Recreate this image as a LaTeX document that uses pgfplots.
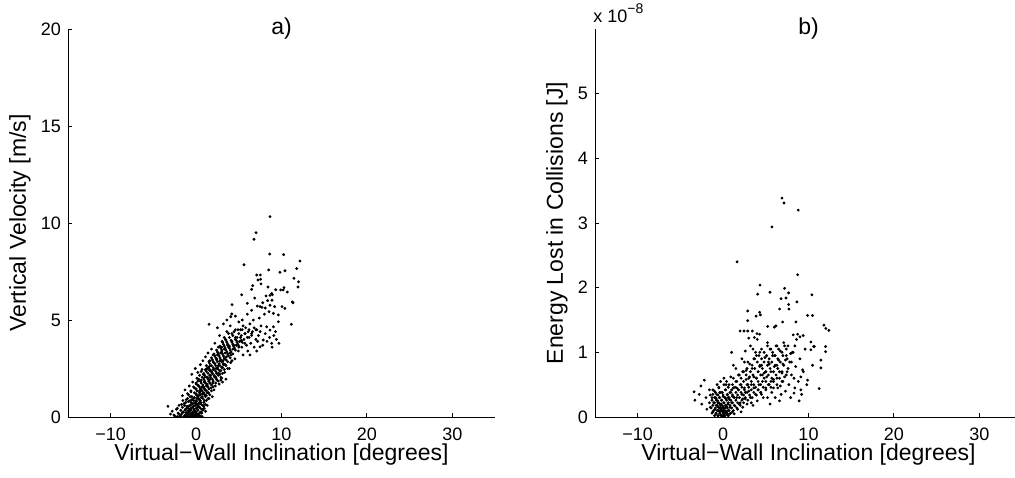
\documentclass[border=0pt]{standalone}
\usepackage{fontspec}
\setmainfont{Liberation Sans}
\usepackage{pgfplots}
\pgfplotsset{compat=1.18}

\pgfplotsset{mystyle/.style={
  scale only axis, width=213.5pt, height=194pt,
  axis x line*=bottom, axis y line*=left,
  axis line style={-, line width=0.5pt},
  tick align=inside, major tick length=2pt,
  tick style={black, line width=0.5pt},
  xmin=-15, xmax=35, xtick={-10,0,10,20,30},
  xticklabels={−10,0,10,20,30},
  ymin=0,
  ticklabel style={font=\fontsize{9}{11}\selectfont},
  xticklabel style={yshift=-2pt},
  every axis x label/.style={at={(axis description cs:0.5,-0.098)},anchor=center,font=\fontsize{11.5}{14}\selectfont},
  /pgf/number format/assume math mode=true,
  clip=false,
}}
\pgfplotsset{dots/.style={only marks, mark=*, mark size=0.5pt, mark options={draw=none, fill=black}}}

\begin{document}
\begin{tikzpicture}
\path[use as bounding box] (0,0) rectangle (507.5pt,-238.5pt);

\begin{axis}[mystyle, at={(34pt,-208.5pt)}, anchor=south west,
  ymax=20, ytick={0,5,10,15,20},
  xlabel={Virtual−Wall Inclination [degrees]},
  ylabel={Vertical Velocity [m/s]},
  every axis y label/.style={at={(axis description cs:-0.1124,0.5)},rotate=90,anchor=center,font=\fontsize{11.5}{14}\selectfont},
]
\addplot[dots] coordinates {
(8.65,10.33)(7.02,9.50)(6.78,9.16)(8.62,8.40)(10.25,8.37)(12.16,8.04)(5.61,7.85)(11.78,7.65)(8.5,7.58)(10.41,7.54)
(9.82,7.46)(7.1,7.32)(7.52,7.32)(7.25,7.06)(7.56,7.1)(11.46,7.15)(12.0,6.97)(7.6,6.86)(6.63,6.77)(11.93,6.7)
(8.42,6.7)(6.5,6.58)(10.29,6.67)(10.2,6.55)(9.9,6.55)(9.32,6.56)(10.68,6.44)(8.85,6.37)(8.93,6.3)(8.65,6.27)
(8.19,6.24)(5.34,6.3)(6.86,6.13)(8.38,6.0)(8.89,6.02)(11.27,5.93)(11.35,5.89)(7.8,5.89)(6.0,5.86)(4.21,5.79)
(7.17,5.72)(7.49,5.69)(7.72,5.65)(8.1,5.62)(8.65,5.76)(9.2,5.69)(10.06,5.69)(10.4,5.6)(11.15,4.78)(1.52,4.78)
(4.17,5.31)(4.06,5.17)(8.54,5.43)(9.05,5.34)(9.63,5.26)(9.63,4.91)(9.05,4.65)(8.27,4.65)(8.65,4.48)(8.85,3.8)
(7.49,3.62)(7.87,3.97)
(-3.3,0.55)(-3.0,0.15)(-2.8,0.3)(-2.5,0.05)(-2.3,0.4)(-2.1,0.2)(-2.0,0.6)(-1.9,0.05)(-1.8,0.35)(-1.7,0.15)
(-1.6,0.5)(-1.5,0.25)(-1.45,0.02)(-1.4,0.7)(-1.3,0.1)(-1.25,0.4)(-1.2,0.22)(-1.1,0.05)(-1.05,0.55)(-1.0,0.3)
(-0.95,0.12)(-0.9,0.8)(-0.85,0.42)(-0.8,0.02)(-0.75,0.25)(-0.7,0.6)(-0.65,0.15)(-0.6,0.35)(-0.55,0.05)(-0.5,0.9)
(-0.45,0.5)(-0.4,0.2)(-0.35,0.7)(-0.3,0.1)(-0.25,0.4)(-0.2,1.0)(-0.15,0.28)(-0.1,0.6)(-0.05,0.02)(0.0,0.45)
(0.05,0.8)(0.1,0.15)(0.15,1.1)(0.2,0.35)(0.25,0.65)(0.3,0.05)(0.35,0.9)(0.4,0.5)(0.45,1.3)(0.5,0.25)
(0.55,0.75)(0.6,1.0)(0.7,0.4)(0.75,1.2)(0.8,0.6)(0.9,1.5)(1.0,0.85)(1.1,0.3)(1.2,1.1)
(-1.6,1.1)(-1.3,1.4)(-1.0,1.2)(-0.8,1.6)(-0.6,1.3)(-0.4,1.8)(-0.2,1.5)(0.0,1.2)(0.1,2.0)(0.3,1.6)
(0.4,1.35)(0.6,1.9)(0.7,1.55)(0.85,2.2)(0.95,1.8)(1.05,1.4)(1.15,2.4)(1.25,1.7)(1.35,2.05)(1.45,1.25)
(1.55,2.6)(1.65,1.95)(1.75,1.5)(1.85,2.3)(1.95,1.75)(2.05,2.8)(2.15,2.1)(2.25,1.6)(2.35,2.5)(2.45,1.9)
(2.6,2.25)(2.7,1.7)(2.8,2.9)(2.9,2.4)(3.0,2.0)(3.1,1.8)(3.2,2.7)(3.35,2.3)(3.5,1.95)(3.7,2.5)
(-0.5,2.2)(-0.1,2.5)(0.2,2.3)(0.5,2.7)(0.8,2.9)(1.1,3.1)(1.4,3.3)
(1.6,2.9)(1.8,3.5)(2.0,3.2)(2.2,3.8)(2.4,3.0)(2.6,3.6)(2.75,4.2)(2.9,3.3)(3.05,3.9)(3.15,2.9)
(3.3,3.5)(3.45,4.0)(3.55,3.1)(3.7,3.7)(3.8,4.3)(3.95,3.3)(4.05,2.8)(4.2,3.9)(4.3,3.5)(4.45,4.4)
(4.55,3.0)(4.7,3.7)(4.8,4.1)(4.95,3.4)(5.1,3.9)(5.2,4.5)(5.35,3.6)(5.5,3.2)(5.6,4.0)(5.75,4.3)
(5.9,3.7)(6.05,3.4)(6.2,4.1)(6.4,3.8)(6.6,4.4)(6.8,3.6)(7.0,4.0)(7.2,3.9)(2.5,4.6)(3.2,4.8)
(3.6,5.0)(4.0,4.7)(4.6,5.2)(5.0,4.9)(5.4,5.0)(5.8,4.6)
(6.3,4.8)(6.7,5.0)(7.0,4.5)(7.3,4.2)(7.6,4.7)(7.8,3.7)(8.1,4.3)(8.3,3.9)(8.6,4.1)(8.9,3.6)
(9.1,4.2)(9.4,4.0)(6.0,5.3)(6.5,5.5)(7.4,5.1)(8.0,5.3)(9.3,4.4)(9.7,3.8)
(-2.6,0.1)(-2.2,0.02)(-1.55,0.85)(-1.15,0.9)(-0.7,1.05)(-0.3,0.85)(0.1,0.95)(0.2,0.55)(-0.6,0.75)(-0.9,0.55)
(-1.35,0.6)(0.0,0.1)(-0.2,0.05)(0.4,0.2)(0.65,0.2)(0.3,0.7)(-0.4,0.02)(-1.0,0.02)(0.95,0.45)(1.3,0.6)
(1.5,0.95)(-0.05,0.7)(0.7,0.02)
(0.0,1.7)(0.3,1.1)(0.5,1.45)(0.9,1.2)(1.2,1.6)(1.5,1.85)(1.7,2.15)(1.0,2.05)(1.3,2.5)(2.0,2.45)
(2.3,2.05)(2.6,2.65)(2.8,2.2)(3.1,2.55)(3.4,2.7)(1.6,2.4)(2.1,1.4)(1.9,1.05)(2.9,1.9)(3.3,3.0)
(3.9,2.5)(4.2,2.9)(2.5,3.2)(0.7,2.45)(0.2,1.85)
(3.0,3.6)(3.4,3.3)(3.8,3.6)(4.1,3.2)(4.4,3.7)(4.6,4.0)(5.0,3.6)(5.3,4.2)(5.7,3.8)(6.1,4.4)
(6.5,4.2)(4.9,4.5)(5.5,4.7)(6.8,4.6)(7.5,4.4)(4.3,4.2)(3.6,4.4)(3.3,4.1)(2.6,3.3)(6.3,3.2)(7.1,3.4)
(-1.8,0.05)(-1.2,0.05)(-0.7,0.05)(-0.3,0.05)(0.1,0.05)(0.5,0.05)
(-2.0,0.15)(-1.0,0.15)(-0.5,0.15)(-0.1,0.15)(0.3,0.15)
(-1.6,0.25)(-0.9,0.25)(-0.4,0.25)(0.0,0.25)(0.6,0.25)
(-1.3,0.35)(-0.8,0.35)(-0.2,0.35)(0.2,0.35)(0.8,0.35)
(-2.2,0.45)(-1.1,0.45)(-0.6,0.45)(0.1,0.45)(0.5,0.45)
(-0.9,0.55)(-0.3,0.55)(0.3,0.55)(0.9,0.55)
(-1.7,0.65)(-0.5,0.65)(0.0,0.65)(0.6,0.65)(1.1,0.65)
(-1.2,0.75)(-0.1,0.75)(0.4,0.75)(0.9,0.75)
(-0.7,0.85)(0.0,0.85)(0.5,0.85)(1.2,0.85)
(-1.0,0.95)(-0.3,0.95)(0.3,0.95)(0.8,0.95)(1.4,0.95)
(-0.5,1.05)(0.2,1.05)(0.7,1.05)(1.1,1.05)
(-0.9,1.15)(0.0,1.15)(0.5,1.15)(1.0,1.15)(1.6,1.15)
(-0.2,1.25)(0.4,1.25)(0.9,1.25)(1.3,1.25)
(-0.6,1.35)(0.1,1.35)(0.7,1.35)(1.2,1.35)(1.8,1.35)
(0.0,1.45)(0.6,1.45)(1.0,1.45)(1.5,1.45)
(-0.3,1.55)(0.4,1.55)(0.9,1.55)(1.4,1.55)(2.0,1.55)
(0.2,1.65)(0.8,1.65)(1.3,1.65)(1.8,1.65)
(0.0,1.75)(0.6,1.75)(1.1,1.75)(1.6,1.75)(2.3,1.75)
(0.5,1.85)(1.0,1.85)(1.5,1.85)(2.0,1.85)(2.6,1.85)
(0.3,1.95)(0.9,1.95)(1.4,1.95)(1.9,1.95)(2.4,1.95)
(0.7,2.05)(1.2,2.05)(1.7,2.05)(2.2,2.05)(2.9,2.05)
(0.4,2.15)(1.0,2.15)(1.6,2.15)(2.1,2.15)(2.6,2.15)
(0.9,2.25)(1.4,2.25)(1.9,2.25)(2.4,2.25)(3.1,2.25)
(0.6,2.35)(1.2,2.35)(1.8,2.35)(2.3,2.35)(2.8,2.35)
(1.1,2.45)(1.6,2.45)(2.1,2.45)(2.6,2.45)(3.3,2.45)
(1.4,2.55)(2.0,2.55)(2.5,2.55)(3.0,2.55)
(1.2,2.65)(1.8,2.65)(2.3,2.65)(2.8,2.65)(3.5,2.65)
(1.6,2.75)(2.2,2.75)(2.7,2.75)(3.2,2.75)
(1.5,2.85)(2.0,2.85)(2.5,2.85)(3.0,2.85)(3.7,2.85)
(1.9,2.95)(2.4,2.95)(2.9,2.95)(3.5,2.95)
(1.8,3.05)(2.3,3.05)(2.8,3.05)(3.3,3.05)(4.0,3.05)
(2.2,3.15)(2.7,3.15)(3.2,3.15)(3.8,3.15)
(2.1,3.25)(2.6,3.25)(3.1,3.25)(3.7,3.25)(4.3,3.25)
(2.5,3.35)(3.0,3.35)(3.6,3.35)(4.1,3.35)
(2.4,3.45)(3.0,3.45)(3.5,3.45)(4.0,3.45)(4.6,3.45)
(2.9,3.55)(3.4,3.55)(3.9,3.55)(4.5,3.55)
(2.8,3.65)(3.3,3.65)(3.9,3.65)(4.4,3.65)(5.0,3.65)
(3.2,3.75)(3.7,3.75)(4.3,3.75)(4.9,3.75)
(3.1,3.85)(3.6,3.85)(4.2,3.85)(4.8,3.85)(5.4,3.85)
(3.5,3.95)(4.1,3.95)(4.7,3.95)(5.3,3.95)
(3.9,4.1)(4.6,4.1)(5.2,4.1)(6.0,4.1)
(4.2,4.3)(5.0,4.3)(5.7,4.3)(6.5,4.3)
(4.6,4.5)(5.4,4.5)(6.2,4.5)(7.1,4.5)
};
\node[font=\fontsize{11.5}{14}\selectfont, anchor=center] at (rel axis cs:0.5,1) {a)};
\end{axis}

\begin{axis}[mystyle, at={(297.5pt,-208.5pt)}, anchor=south west,
  ymax=6, ytick={0,1,2,3,4,5},
  xlabel={Virtual−Wall Inclination [degrees]},
  ylabel={Energy Lost in Collisions [J]},
  every axis y label/.style={at={(axis description cs:-0.089,0.5)},rotate=90,anchor=center,font=\fontsize{11.5}{14}\selectfont},
]
\addplot[dots] coordinates {
(6.89,3.385)(7.13,3.31)(8.8,3.2)(5.72,2.94)(1.64,2.4)(8.72,2.2)(4.32,2.04)(4.05,1.9)(5.49,1.93)(7.2,1.99)
(7.67,1.92)(10.4,1.89)(6.78,1.83)(7.36,1.84)(8.64,1.78)(7.67,1.74)(6.62,1.67)(7.71,1.67)(2.88,1.64)(4.28,1.62)
(3.86,1.56)(4.36,1.58)(9.89,1.57)(10.47,1.57)(2.88,1.49)(6.19,1.41)(6.0,1.39)(5.22,1.4)(6.97,1.47)(8.53,1.47)
(1.99,1.33)(2.45,1.33)(2.88,1.33)(3.42,1.33)(3.97,1.29)(4.28,1.28)(3.0,1.22)(3.66,1.23)(8.21,1.27)(8.72,1.28)
(9.38,1.26)(9.0,1.24)(10.28,1.16)(10.67,1.09)(11.8,1.42)(12.03,1.37)(12.38,1.34)(12.0,1.09)(12.0,1.01)(11.45,0.88)
(11.45,0.76)(11.25,0.44)(10.28,1.04)(10.6,1.09)(9.89,0.57)(10.47,0.8)(9.3,0.73)(9.1,0.62)(8.3,0.37)
(-1.5,0.15)(-1.3,0.3)(-1.2,0.08)(-1.1,0.22)(-1.0,0.4)(-0.95,0.12)(-0.9,0.3)(-0.85,0.05)(-0.8,0.18)(-0.75,0.35)
(-0.7,0.1)(-0.65,0.25)(-0.6,0.02)(-0.55,0.15)(-0.5,0.45)(-0.45,0.3)(-0.4,0.08)(-0.35,0.2)(-0.3,0.03)(-0.25,0.38)
(-0.2,0.12)(-0.15,0.26)(-0.1,0.01)(-0.05,0.17)(0.0,0.06)(0.0,0.32)(0.05,0.1)(0.1,0.22)(0.15,0.02)(0.2,0.14)
(0.25,0.42)(0.3,0.07)(0.35,0.28)(0.4,0.16)(0.45,0.04)(0.5,0.35)(0.55,0.2)(0.6,0.1)(0.7,0.5)(0.75,0.27)
(0.8,0.15)(0.9,0.38)(1.0,0.22)(1.1,0.08)(1.2,0.45)(1.3,0.3)(1.4,0.17)(1.5,0.55)(-0.3,0.55)(0.1,0.6)
(0.35,0.5)(-0.7,0.5)(-1.6,0.42)(-2.0,0.3)(-2.2,0.57)(-2.5,0.2)(-2.8,0.35)(-3.3,0.26)(-3.4,0.39)(-1.9,0.12)(-2.6,0.48)
(1.6,0.3)(1.7,0.12)(1.8,0.42)(1.9,0.65)(2.0,0.22)(2.1,0.5)(2.2,0.35)(2.3,0.15)(2.4,0.7)(2.5,0.45)
(2.6,0.28)(2.7,0.58)(2.8,0.2)(2.9,0.85)(3.0,0.4)(3.1,0.62)(3.2,0.3)(3.3,0.5)(3.4,0.75)(3.5,0.18)
(3.6,0.45)(3.7,0.9)(3.8,0.35)(3.9,0.6)(4.0,0.25)(4.1,0.7)(4.2,0.5)(4.3,1.0)(4.4,0.38)(4.5,0.8)
(4.6,0.55)(4.7,0.3)(4.8,0.68)(4.9,0.92)(5.0,0.45)(2.2,0.9)(2.6,1.02)(3.2,1.1)(1.2,0.8)(1.0,1.0)(3.5,1.05)(4.0,1.2)
(5.1,0.62)(5.2,0.3)(5.3,0.85)(5.4,0.5)(5.5,1.05)(5.6,0.7)(5.7,0.38)(5.8,0.95)(5.9,0.58)(6.0,0.78)
(6.1,0.3)(6.2,1.1)(6.3,0.6)(6.4,0.45)(6.5,0.88)(6.6,0.7)(6.7,1.02)(6.8,0.35)(6.9,0.55)(7.0,0.82)
(7.1,1.15)(7.2,0.62)(7.3,0.4)(7.4,0.95)(7.5,0.7)(7.6,1.1)(7.7,0.5)(7.8,0.85)(7.9,0.3)(8.0,0.65)
(8.2,1.0)(8.4,0.45)(8.5,0.78)(8.6,1.2)(8.8,0.55)(9.0,0.9)(9.2,0.35)(9.4,0.7)(9.6,1.05)(9.8,0.5)
(8.9,0.25)(9.1,0.42)(6.6,0.25)(5.5,0.2)
(-0.5,0.1)(-0.3,0.15)(-0.1,0.09)(0.1,0.04)(0.2,0.3)(0.3,0.18)(-0.2,0.2)(0.4,0.09)(0.6,0.3)(-0.4,0.38)
(-0.6,0.22)(0.0,0.15)(0.5,0.05)(0.8,0.05)(-0.8,0.28)(1.1,0.32)(1.6,0.45)(1.9,0.2)(2.3,0.28)(2.6,0.38)
(2.9,0.5)(3.3,0.22)(3.6,0.62)(4.1,0.42)(4.5,0.35)(5.0,0.7)(5.4,0.82)(5.9,0.45)(6.3,0.8)(6.9,0.68)
(7.3,0.88)(2.1,0.08)(1.3,0.05)(2.7,0.72)(3.1,0.82)(4.6,0.65)(5.6,0.55)(6.1,0.95)(6.7,0.48)(7.9,0.98)
(8.3,0.6)(4.3,0.78)(3.9,0.95)(5.2,1.15)(1.5,0.75)(0.9,0.62)(-1.2,0.35)
(-1.0,0.02)(-0.6,0.02)(-0.2,0.02)(0.2,0.02)(0.6,0.02)
(-1.3,0.06)(-0.8,0.06)(-0.4,0.06)(0.0,0.06)(0.4,0.06)(0.9,0.06)
(-1.1,0.10)(-0.6,0.10)(-0.2,0.10)(0.2,0.10)(0.7,0.10)(1.2,0.10)
(-1.4,0.14)(-0.9,0.14)(-0.4,0.14)(0.0,0.14)(0.5,0.14)(1.0,0.14)(1.6,0.14)
(-1.2,0.18)(-0.7,0.18)(-0.3,0.18)(0.3,0.18)(0.8,0.18)(1.3,0.18)(2.0,0.18)
(-1.6,0.22)(-1.0,0.22)(-0.5,0.22)(0.1,0.22)(0.6,0.22)(1.1,0.22)(1.7,0.22)(2.4,0.22)
(-1.3,0.26)(-0.8,0.26)(-0.2,0.26)(0.4,0.26)(0.9,0.26)(1.5,0.26)(2.2,0.26)(2.9,0.26)
(-1.0,0.30)(-0.4,0.30)(0.2,0.30)(0.7,0.30)(1.3,0.30)(1.9,0.30)(2.6,0.30)(3.4,0.30)
(-1.5,0.34)(-0.6,0.34)(0.0,0.34)(0.5,0.34)(1.1,0.34)(1.7,0.34)(2.4,0.34)(3.1,0.34)(3.9,0.34)
(-0.9,0.38)(-0.1,0.38)(0.8,0.38)(1.5,0.38)(2.1,0.38)(2.8,0.38)(3.6,0.38)(4.4,0.38)
(-1.2,0.42)(0.3,0.42)(1.0,0.42)(1.8,0.42)(2.5,0.42)(3.3,0.42)(4.1,0.42)(5.0,0.42)
(-0.5,0.46)(0.6,0.46)(1.4,0.46)(2.2,0.46)(3.0,0.46)(3.8,0.46)(4.7,0.46)(5.6,0.46)
(0.1,0.50)(1.1,0.50)(2.0,0.50)(2.8,0.50)(3.6,0.50)(4.4,0.50)(5.3,0.50)(6.3,0.50)
(0.4,0.55)(1.6,0.55)(2.4,0.55)(3.3,0.55)(4.1,0.55)(5.0,0.55)(5.9,0.55)(7.0,0.55)
(1.2,0.60)(2.1,0.60)(3.0,0.60)(3.9,0.60)(4.8,0.60)(5.7,0.60)(6.6,0.60)
(1.8,0.65)(2.7,0.65)(3.5,0.65)(4.4,0.65)(5.3,0.65)(6.2,0.65)(7.4,0.65)
(2.3,0.70)(3.2,0.70)(4.1,0.70)(5.0,0.70)(5.9,0.70)(6.9,0.70)
(2.8,0.75)(3.7,0.75)(4.6,0.75)(5.5,0.75)(6.4,0.75)(7.6,0.75)
(3.4,0.80)(4.3,0.80)(5.2,0.80)(6.1,0.80)(7.1,0.80)
(2.5,0.85)(4.0,0.85)(4.8,0.85)(5.7,0.85)(6.7,0.85)(8.0,0.85)
(3.6,0.90)(4.5,0.90)(5.4,0.90)(6.4,0.90)(7.5,0.90)
(4.2,0.95)(5.1,0.95)(6.0,0.95)(7.0,0.95)
(3.8,1.00)(4.8,1.00)(5.8,1.00)(6.9,1.00)(8.1,1.00)
(4.5,1.05)(5.6,1.05)(6.5,1.05)(7.4,1.05)
(5.2,1.10)(6.3,1.10)(7.2,1.10)(8.4,1.10)
};
\node[font=\fontsize{11.5}{14}\selectfont, anchor=center] at (rel axis cs:0.5,1) {b)};
\node[font=\fontsize{9}{11}\selectfont, anchor=base west, inner sep=0pt] at ([xshift=-1pt,yshift=3.5pt]rel axis cs:0,1) {x 10\raisebox{4.5pt}{\fontsize{7}{8}\selectfont −8}};
\end{axis}
\end{tikzpicture}
\end{document}
